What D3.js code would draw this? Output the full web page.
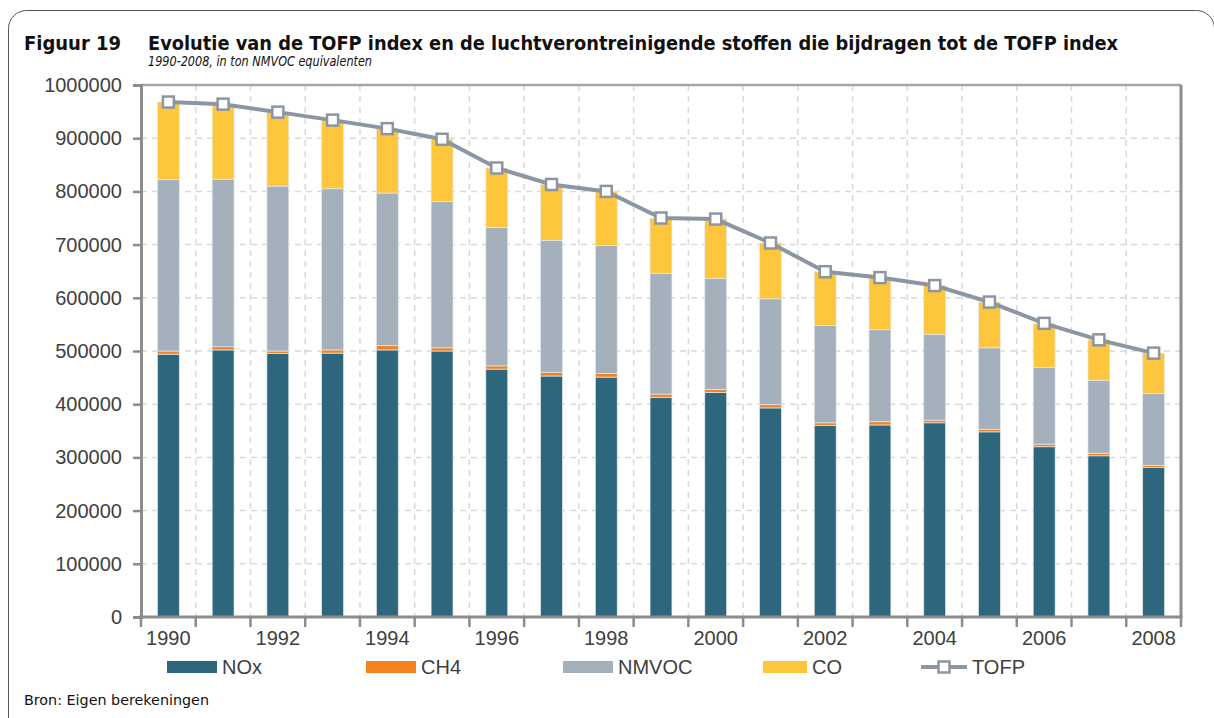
<!DOCTYPE html>
<html>
<head>
<meta charset="utf-8">
<script src="https://cdn.jsdelivr.net/npm/d3@7"></script>
<style>
  body { margin: 0; background: #fff; }
</style>
</head>
<body>
<div id="chart-area"></div>
<script>
// data (ton NMVOC equivalenten)
var years = [1990, 1991, 1992, 1993, 1994, 1995, 1996, 1997, 1998, 1999,
             2000, 2001, 2002, 2003, 2004, 2005, 2006, 2007, 2008];
var nox   = [494000, 502000, 495000, 496000, 502000, 500000, 466000, 453000, 451000, 413000,
             422000, 393000, 360000, 361000, 365000, 348000, 320000, 303000, 281000];
var ch4   = [6000, 6000, 5000, 6000, 8000, 6000, 6000, 7000, 7000, 6000,
             6000, 6000, 5000, 6000, 5000, 5000, 5000, 5000, 4000];
var nmvoc = [322000, 315000, 310000, 303000, 287000, 275000, 260000, 248000, 240000, 227000,
             208000, 199000, 183000, 173000, 161000, 153000, 144000, 137000, 135000];
var co    = [146000, 141000, 139000, 129000, 121000, 117000, 112000, 105000, 102000, 104000,
             112000, 105000, 101000, 98000, 92000, 86000, 83000, 76000, 76000];
var tofp  = [968000, 964000, 949000, 934000, 918000, 898000, 844000, 813000, 800000, 750000,
             748000, 703000, 649000, 638000, 623000, 592000, 552000, 521000, 496000];
var yTicks = [0, 100000, 200000, 300000, 400000, 500000, 600000, 700000, 800000, 900000, 1000000];
var xLabels = [1990, 1992, 1994, 1996, 1998, 2000, 2002, 2004, 2006, 2008];
var keys = ["NOx", "CH4", "NMVOC", "CO"];

var colors = { NOx: "#2e677d", CH4: "#f58220", NMVOC: "#a5b0bd", CO: "#fec63d" };
var lineColor = "#8c96a3";
var titleFont = "'DejaVu Sans Condensed', 'DejaVu Sans', sans-serif";
var axisFont = "'Liberation Sans', Arial, sans-serif";

// build a table for d3.stack
var table = years.map(function(y, i) {
  return { year: y, NOx: nox[i], CH4: ch4[i], NMVOC: nmvoc[i], CO: co[i], TOFP: tofp[i] };
});

var W = 1214, H = 718;
var margin = {left: 141, right: 33, top: 85, bottom: 101};
var width = W - margin.left - margin.right,
    height = H - margin.top - margin.bottom;

var root = d3.select("#chart-area")
  .append("svg")
    .attr("width", W)
    .attr("height", H);

// outer frame with rounded corners
root.append("rect")
    .attr("x", 8.5).attr("y", 10.5)
    .attr("width", 1206).attr("height", 740)
    .attr("rx", 18)
    .attr("fill", "none")
    .attr("stroke", "#555")
    .attr("stroke-width", 1);

// titles
root.append("text")
    .attr("x", 24).attr("y", 50)
    .attr("font-family", titleFont)
    .attr("font-weight", "bold")
    .attr("font-size", "20px")
    .attr("fill", "#111")
    .attr("textLength", 97)
    .attr("lengthAdjust", "spacingAndGlyphs")
    .text("Figuur 19");

root.append("text")
    .attr("x", 148).attr("y", 50)
    .attr("font-family", titleFont)
    .attr("font-weight", "bold")
    .attr("font-size", "20px")
    .attr("fill", "#111")
    .attr("textLength", 970)
    .attr("lengthAdjust", "spacingAndGlyphs")
    .text("Evolutie van de TOFP index en de luchtverontreinigende stoffen die bijdragen tot de TOFP index");

root.append("text")
    .attr("x", 148).attr("y", 66)
    .attr("font-family", titleFont)
    .attr("font-style", "italic")
    .attr("font-size", "14px")
    .attr("fill", "#111")
    .attr("textLength", 224)
    .attr("lengthAdjust", "spacingAndGlyphs")
    .text("1990-2008, in ton NMVOC equivalenten");

root.append("text")
    .attr("x", 24).attr("y", 705)
    .attr("font-family", titleFont)
    .attr("font-size", "14px")
    .attr("fill", "#111")
    .attr("textLength", 185)
    .attr("lengthAdjust", "spacingAndGlyphs")
    .text("Bron: Eigen berekeningen");

var svg = root.append("g")
    .attr("transform", "translate(" + margin.left + "," + margin.top + ")");

// scales
var x = d3.scaleBand()
  .domain(years)
  .range([0, width])
  .paddingInner(0.6)
  .paddingOuter(0.3);

var y = d3.scaleLinear()
  .domain([0, 1000000])
  .range([height, 0]);

// grid lines
svg.append("g")
  .selectAll("line")
  .data(yTicks.slice(1, -1))
  .enter().append("line")
    .attr("x1", 0).attr("x2", width)
    .attr("y1", function(d) { return y(d); })
    .attr("y2", function(d) { return y(d); })
    .attr("stroke", "#d9d9d9")
    .attr("stroke-width", 1.5)
    .attr("stroke-dasharray", "6,5");

var step = x.step();
var bounds = d3.range(1, years.length).map(function(i) { return x(years[i]) - step * 0.3; });

svg.append("g")
  .selectAll("line")
  .data(bounds)
  .enter().append("line")
    .attr("x1", function(d) { return d; })
    .attr("x2", function(d) { return d; })
    .attr("y1", 0).attr("y2", height)
    .attr("stroke", "#d9d9d9")
    .attr("stroke-width", 1.5)
    .attr("stroke-dasharray", "6,5");

// top and right border of plot
svg.append("line")
    .attr("x1", 0).attr("x2", width).attr("y1", 0).attr("y2", 0)
    .attr("stroke", "#a6a6a6").attr("stroke-width", 2.5);
svg.append("line")
    .attr("x1", width).attr("x2", width).attr("y1", 0).attr("y2", height)
    .attr("stroke", "#8c8c8c").attr("stroke-width", 3);

// stacked bars
var series = d3.stack().keys(keys)(table);

svg.append("g")
  .selectAll("g")
  .data(series)
  .enter().append("g")
    .attr("fill", function(d) { return colors[d.key]; })
  .selectAll("rect")
  .data(function(d) { return d; })
  .enter().append("rect")
    .attr("x", function(d) { return x(d.data.year); })
    .attr("y", function(d) { return y(d[1]); })
    .attr("width", x.bandwidth())
    .attr("height", function(d) { return y(d[0]) - y(d[1]); })
    .attr("stroke", "#e4e9ee")
    .attr("stroke-width", 0.7);

// y axis
var yAxis = svg.append("g")
  .call(d3.axisLeft(y).tickValues(yTicks).tickFormat(d3.format("d")).tickSize(8).tickPadding(11));
yAxis.select(".domain").attr("stroke", "#8c8c8c").attr("stroke-width", 3);
yAxis.selectAll(".tick line").attr("stroke", "#8c8c8c").attr("stroke-width", 2.5);
yAxis.selectAll("text")
    .attr("font-size", "20px")
    .attr("fill", "#404040")
    .attr("font-family", axisFont);

// x axis
var xAxis = svg.append("g")
  .attr("transform", "translate(0," + height + ")");
xAxis.append("line")
    .attr("x1", -1.5).attr("x2", width + 1.5)
    .attr("stroke", "#8c8c8c").attr("stroke-width", 3);
xAxis.selectAll(".xtick")
  .data([0].concat(bounds).concat([width]))
  .enter().append("line")
    .attr("x1", function(d) { return d; })
    .attr("x2", function(d) { return d; })
    .attr("y1", 0).attr("y2", 10)
    .attr("stroke", "#8c8c8c").attr("stroke-width", 2.5);
xAxis.selectAll(".xlabel")
  .data(xLabels)
  .enter().append("text")
    .attr("x", function(d) { return x(d) + x.bandwidth() / 2; })
    .attr("y", 28)
    .attr("text-anchor", "middle")
    .attr("font-family", axisFont)
    .attr("font-size", "20px")
    .attr("fill", "#404040")
    .text(function(d) { return d; });

// TOFP line with square markers
var line = d3.line()
  .x(function(d) { return x(d.year) + x.bandwidth() / 2; })
  .y(function(d) { return y(d.TOFP); });

svg.append("path")
    .datum(table)
    .attr("d", line)
    .attr("fill", "none")
    .attr("stroke", lineColor)
    .attr("stroke-width", 4);

svg.append("g")
  .selectAll("rect")
  .data(table)
  .enter().append("rect")
    .attr("x", function(d) { return x(d.year) + x.bandwidth() / 2 - 5.5; })
    .attr("y", function(d) { return y(d.TOFP) - 5.5; })
    .attr("width", 11).attr("height", 11)
    .attr("fill", "#fff")
    .attr("stroke", lineColor)
    .attr("stroke-width", 2.5);

// legend
var legendX = [167, 366, 563, 763, 921];
var legendItems = keys.concat(["TOFP"]);
var legend = root.append("g");

legendItems.forEach(function(k, i) {
  var g = legend.append("g").attr("transform", "translate(" + legendX[i] + ",667)");
  var sw = 50;
  if (k === "TOFP") {
    sw = 46;
    g.append("line").attr("x1", 0).attr("x2", sw)
        .attr("stroke", lineColor).attr("stroke-width", 4);
    g.append("rect").attr("x", sw / 2 - 5.5).attr("y", -5.5)
        .attr("width", 11).attr("height", 11)
        .attr("fill", "#fff").attr("stroke", lineColor).attr("stroke-width", 2.5);
  } else {
    if (k === "CO") sw = 44;
    g.append("rect").attr("x", 0).attr("y", -6)
        .attr("width", sw).attr("height", 12)
        .attr("fill", colors[k]);
  }
  g.append("text")
      .attr("x", sw + 5).attr("y", 7)
      .attr("font-family", axisFont)
      .attr("font-size", "20px")
      .attr("fill", "#404040")
      .text(k);
});
</script>
</body>
</html>
